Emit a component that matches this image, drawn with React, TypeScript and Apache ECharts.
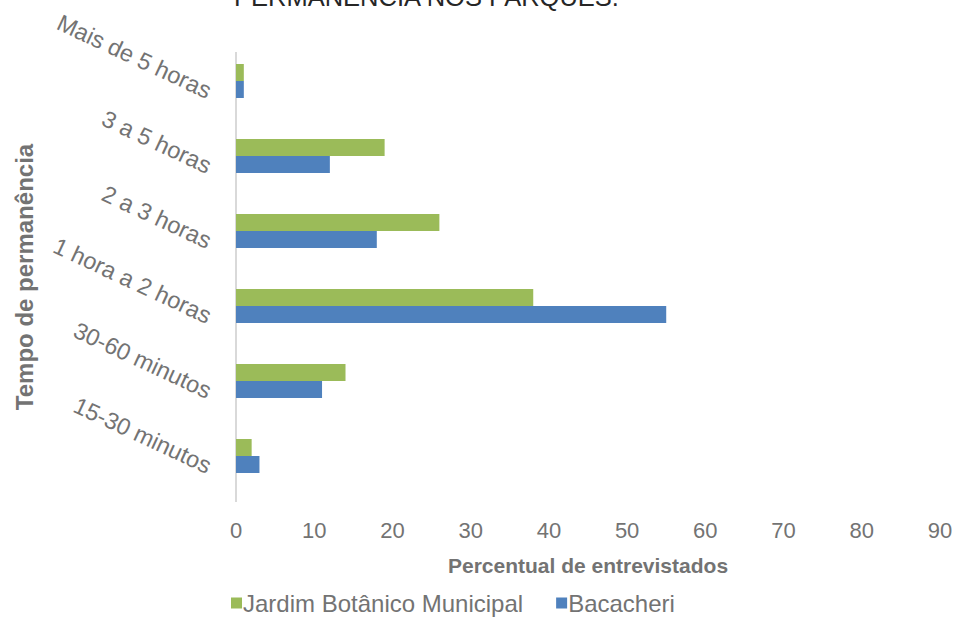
import React, { useEffect, useRef } from "react";
import * as echarts from "echarts";

const categories = [
  "15-30 minutos",
  "30-60 minutos",
  "1 hora a 2 horas",
  "2 a 3 horas",
  "3 a 5 horas",
  "Mais de 5 horas",
];
const jardimValues = [2, 14, 38, 26, 19, 1];
const bacacheriValues = [3, 11, 55, 18, 12, 1];
const seriesNames = ["Jardim Botânico Municipal", "Bacacheri"];
const titleText = "PERMANÊNCIA NOS PARQUES.";
const xAxisName = "Percentual de entrevistados";
const yAxisName = "Tempo de permanência";

const FONT = "'Liberation Sans', Arial, sans-serif";
const GREY = "#737373";

export default function App() {
  const ref = useRef<HTMLDivElement>(null);
  useEffect(() => {
    if (!ref.current) return;
    const chart = echarts.init(ref.current, undefined, { renderer: "svg" });
    chart.setOption({
      animation: false,
      textStyle: { fontFamily: FONT },
      graphic: [
        {
          type: "text",
          left: 234,
          top: -16,
          style: { text: titleText, fontSize: 25.5, fill: "#262626", fontFamily: FONT },
        },
        {
          type: "line",
          shape: { x1: 236, y1: 52, x2: 236, y2: 502 },
          style: { stroke: "#d9d9d9", lineWidth: 2 },
        },
        {
          type: "text",
          x: 12,
          y: 277,
          rotation: Math.PI / 2,
          style: {
            text: yAxisName,
            fontSize: 24,
            fontWeight: "bold",
            fill: GREY,
            fontFamily: FONT,
            align: "center",
            verticalAlign: "top",
          },
        },
      ],
      legend: {
        data: seriesNames,
        bottom: -1,
        left: 226,
        itemWidth: 11,
        itemHeight: 11,
        itemGap: 33,
        icon: "rect",
        textStyle: { fontSize: 24, color: GREY, fontFamily: FONT, padding: [0, 0, 0, -4] },
      },
      grid: {
        left: 236,
        right: 20,
        top: 43.5,
        bottom: 125.5,
        containLabel: false,
        outerBoundsMode: "none",
      },
      xAxis: {
        type: "value",
        min: 0,
        max: 90,
        interval: 10,
        axisLine: { show: false },
        axisTick: { show: false },
        splitLine: { show: false },
        axisLabel: { fontSize: 22, color: GREY, margin: 26, fontFamily: FONT },
        name: xAxisName,
        nameLocation: "middle",
        nameGap: 61,
        nameTextStyle: { fontSize: 21, fontWeight: "bold", color: GREY, fontFamily: FONT },
      },
      yAxis: {
        type: "category",
        data: categories,
        axisLine: { show: false },
        axisTick: { show: false },
        axisLabel: {
          fontSize: 23.5,
          color: GREY,
          rotate: -25,
          margin: 21,
          fontFamily: FONT,
          verticalAlign: "top",
        },
      },
      series: [
        {
          name: seriesNames[0],
          type: "bar",
          data: jardimValues,
          barWidth: 17,
          barGap: "0%",
          itemStyle: { color: "#9BBB59" },
        },
        {
          name: seriesNames[1],
          type: "bar",
          data: bacacheriValues,
          barWidth: 17,
          barGap: "0%",
          itemStyle: { color: "#4F81BD" },
        },
      ],
    });
    return () => chart.dispose();
  }, []);
  return <div ref={ref} style={{ width: 960, height: 619, position: "absolute", left: 0, top: 0 }} />;
}
